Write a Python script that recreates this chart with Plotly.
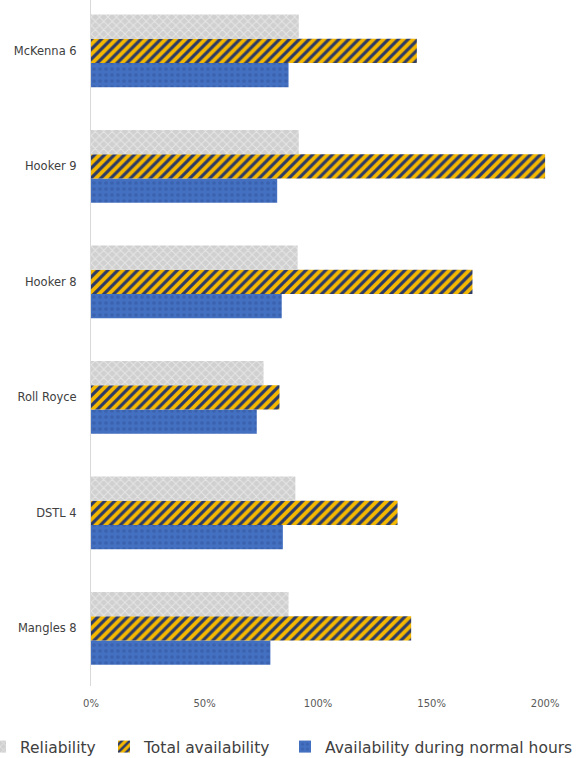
import plotly.graph_objects as go

categories = ["Mangles 8", "DSTL 4", "Roll Royce", "Hooker 8", "Hooker 9", "McKenna 6"]
reliability = [87, 90, 76, 91, 91.5, 91.5]
total_availability = [141, 135, 83, 168, 200, 143.5]
normal_hours = [79, 84.5, 73, 84, 82, 87]
tick_vals = [0, 50, 100, 150, 200]
tick_text = ["0%", "50%", "100%", "150%", "200%"]

FONT = "DejaVu Sans, Verdana, sans-serif"

fig = go.Figure()
fig.add_trace(go.Bar(
    y=categories, x=normal_hours, orientation="h", name="Availability during normal hours",
    legend="legend3",
    marker=dict(color="#4472c4", line=dict(width=0),
                pattern=dict(shape=".", fgcolor="#3a62ae", bgcolor="#4470c2", size=6, solidity=0.3,
                             fillmode="replace")),
))
fig.add_trace(go.Bar(
    y=categories, x=total_availability, orientation="h", name="Total availability",
    legend="legend2",
    marker=dict(color="#f5b800", line=dict(width=0),
                pattern=dict(shape="/", fgcolor="#2b3a67", bgcolor="#f5b800", size=7, solidity=0.45,
                             fillmode="replace")),
))
fig.add_trace(go.Bar(
    y=categories, x=reliability, orientation="h", name="Reliability",
    legend="legend",
    marker=dict(color="#d6d6d6", line=dict(width=0),
                pattern=dict(shape="x", fgcolor="#e6e6e6", bgcolor="#d0d0d0", size=6, solidity=0.3,
                             fillmode="replace")),
))

leg_common = dict(orientation="h", xanchor="left", yref="container",
                  y=0.0145, yanchor="middle", bgcolor="rgba(0,0,0,0)",
                  font=dict(family=FONT, size=15.5, color="#404040"), itemwidth=30)

plot_left = 91
plot_w = 586 - plot_left

fig.update_layout(
    width=586, height=758,
    margin=dict(l=plot_left, r=0, t=0, b=72, autoexpand=False),
    barmode="group", bargap=0.37, bargroupgap=0,
    plot_bgcolor="white", paper_bgcolor="white",
    font=dict(family=FONT, color="#404040"),
    showlegend=True,
    legend=dict(xref="paper", x=(-20 - plot_left) / plot_w, **leg_common),
    legend2=dict(xref="container", x=104 / 586, **leg_common),
    legend3=dict(xref="container", x=285 / 586, **leg_common),
)
fig.update_xaxes(range=[0, 218], tickvals=tick_vals, ticktext=tick_text, showgrid=False,
                 zeroline=False, showline=False, tickfont=dict(family=FONT, size=10, color="#595959"),
                 ticklabelstandoff=10)
fig.update_yaxes(range=[-0.5, 5.44], showgrid=False, zeroline=False, showline=True,
                 linecolor="#d9d9d9", linewidth=1, ticks="",
                 tickfont=dict(family=FONT, size=11.5, color="#404040"),
                 ticklabelstandoff=11)

fig.write_html("out.html")
